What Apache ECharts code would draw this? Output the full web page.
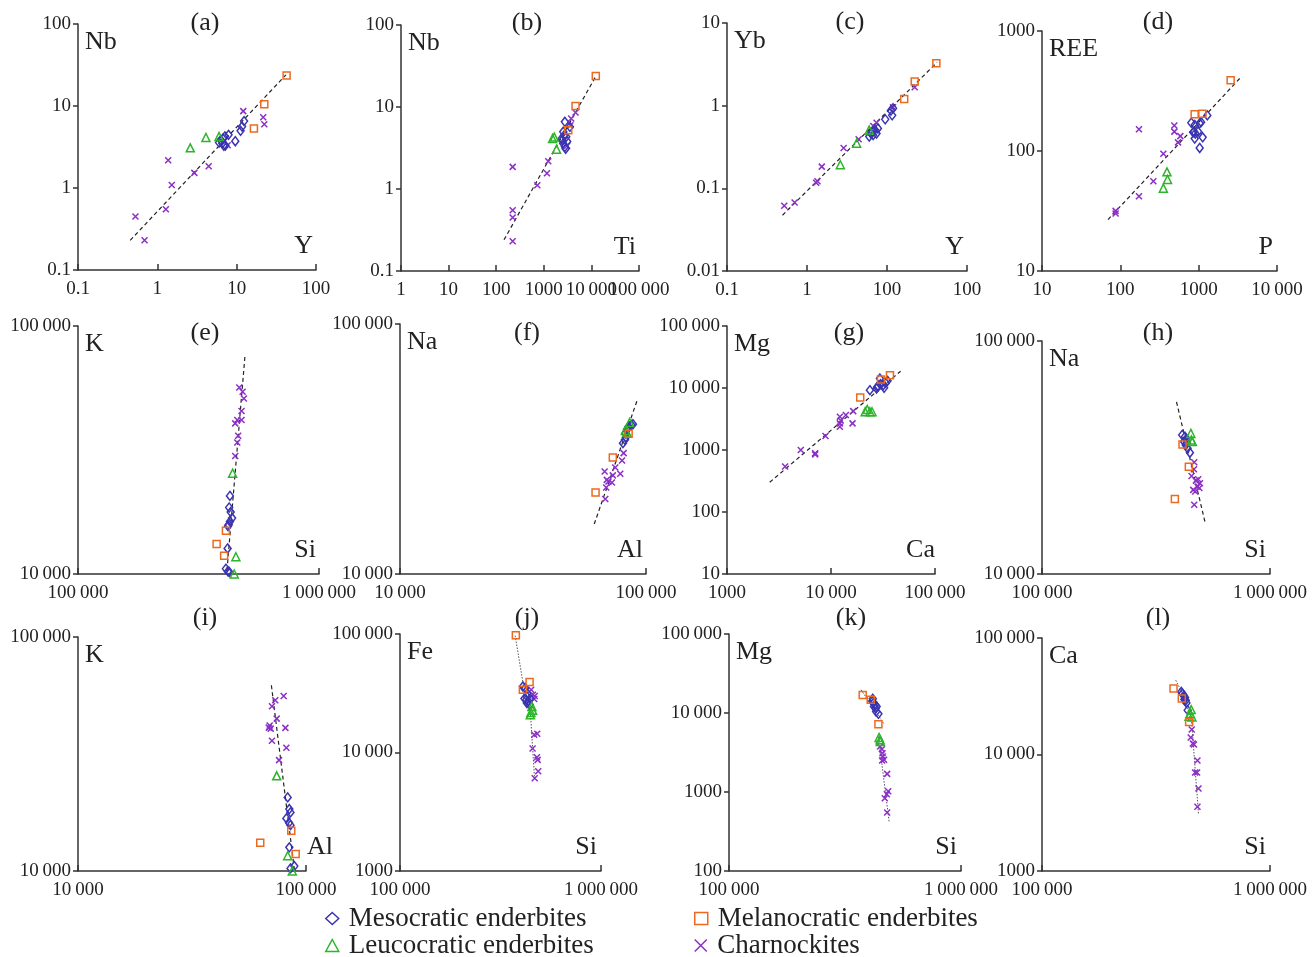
<!DOCTYPE html>
<html>
<head>
<meta charset="utf-8">
<script src="https://cdn.jsdelivr.net/npm/echarts@6/dist/echarts.min.js"></script>
<style>
  html, body { margin: 0; padding: 0; background: #fff; }
  #chart { width: 1315px; height: 957px; }
</style>
</head>
<body>
<div id="chart"></div>
<script>
// ---------- series names ----------
const seriesNames = ['Mesocratic enderbites', 'Leucocratic enderbites', 'Melanocratic enderbites', 'Charnockites'];

// ---------- (a) Nb vs Y ----------
const a_meso = [[6.0,3.59],[6.3,3.85],[6.6,3.5],[6.9,3.27],[7.1,4.25],[7.9,4.45],[9.6,3.72],[11.2,4.98],[11.7,5.62],[12.4,6.54],[7.2,3.3],[6.7,4.0]];
const a_leuco = [[2.6,3.09],[4.1,4.13],[6.0,4.25]];
const a_mela = [[42.6,23.6],[22.3,10.5],[16.5,5.32]];
const a_charn = [[0.53,0.45],[0.69,0.23],[1.28,0.55],[1.37,2.18],[1.52,1.09],[2.93,1.53],[4.44,1.84],[7.7,3.33],[12.1,8.66],[21.6,7.3],[22.3,6.0]];
const a_trend = [[0.455,0.23],[41.8,24.0]];

// ---------- (b) Nb vs Ti ----------
const b_meso = [[2770,6.6],[2560,4.98],[2440,3.94],[2560,3.59],[2770,3.27],[2960,4.33],[3100,3.8],[3530,5.73],[2660,4.5],[2880,3.1],[2360,4.1]];
const b_leuco = [[1530,4.13],[1660,4.3],[1850,3.06]];
const b_mela = [[12370,23.8],[4640,10.3],[3260,5.22]];
const b_charn = [[222,1.86],[222,0.55],[222,0.45],[222,0.23],[730,1.11],[1164,1.56],[1241,2.18],[3100,3.36],[3760,7.25],[4640,8.58],[3630,6.0]];
const b_trend = [[146,0.24],[12770,24.5]];

// ---------- (c) Yb vs Y ----------
const c_meso = [[6.0,0.423],[6.3,0.46],[6.6,0.48],[7.06,0.51],[7.7,0.53],[7.4,0.46],[9.5,0.685],[11.6,0.766],[11.2,0.873],[11.9,0.93],[6.7,0.44]];
const c_leuco = [[2.61,0.193],[4.17,0.351],[6.0,0.508]];
const c_mela = [[41.4,3.27],[22.2,1.96],[16.4,1.2]];
const c_charn = [[0.52,0.0615],[0.70,0.0675],[1.30,0.117],[1.35,0.122],[1.53,0.183],[2.87,0.308],[4.42,0.392],[6.73,0.569],[7.4,0.623],[11.9,0.957],[22.2,1.67]];
const c_trend = [[0.494,0.0473],[42.2,3.34]];

// ---------- (d) REE vs P ----------
const d_meso = [[806,172],[890,165],[872,145],[905,140],[985,145],[1030,170],[1075,174],[890,127],[1125,130],[1030,106],[1290,198],[850,143]];
const d_leuco = [[394,67],[400,58],[354,49]];
const d_mela = [[2560,388],[889,202],[1114,204]];
const d_charn = [[173,152],[87,31.7],[87,30.1],[173,42],[264,56],[354,95],[489,163],[489,145],[545,118],[583,133]];
const d_trend = [[69.6,26.8],[3506,416]];

// ---------- (e) K vs Si ----------
const e_meso = [[427000,20650],[424000,18540],[430000,17770],[436000,16800],[427000,16290],[422000,15790],[419000,15600],[417700,12680],[411000,10500],[419000,10250],[424000,10190]];
const e_leuco = [[438000,25500],[452000,11740],[445000,10000]];
const e_mela = [[411000,14940],[376000,13200],[404000,11850]];
const e_charn = [[467000,56500],[482000,54300],[488000,51000],[477000,45400],[477000,41800],[458000,41800],[449000,40500],[462000,36100],[458000,33900],[449000,29900]];
const e_trend = [[492500,75000],[414000,10000]];

// ---------- (f) Na vs Al ----------
const f_meso = [[80600,33370],[82100,34400],[82800,35260],[83700,37740],[85000,38900],[87100,39500],[88500,39730],[82500,36560],[84200,38200]];
const f_leuco = [[85800,40360],[82400,37500],[83700,36800]];
const f_mela = [[62360,21200],[73300,29250],[85000,36360]];
const f_charn = [[67900,25700],[69300,23800],[70400,23450],[72700,23230],[68900,22200],[73300,24800],[75000,26670],[78600,25170],[79900,28450],[81100,30440],[68300,19940]];
const f_trend = [[61600,15840],[91900,49260]];

// ---------- (g) Mg vs Ca ----------
const g_meso = [[23660,9230],[27400,9820],[28400,10700],[29530,14200],[29900,11530],[31800,11110],[33500,12110],[35000,13040],[27800,10400],[32400,10100]];
const g_leuco = [[22300,4510],[23660,4140],[24800,4140],[21300,4140]];
const g_mela = [[19100,7030],[36900,16070],[30200,13700]];
const g_charn = [[3620,540],[5120,1000],[7040,884],[7040,850],[8850,1680],[12160,3440],[12160,2690],[12160,2370],[13900,3660],[16350,4240],[16100,2690],[12400,3000]];
const g_trend = [[2575,302],[46700,18660]];

// ---------- (h) Na vs Si ----------
const h_meso = [[412000,39500],[423500,38840],[430500,37580],[420000,36980],[427000,35750],[434800,34620],[445400,33160],[432000,36500]];
const h_leuco = [[449800,40120],[452000,37580],[456400,37000]];
const h_mela = [[413300,35990],[440600,28890],[382600,21000]];
const h_charn = [[465300,30150],[464000,28140],[452800,26350],[473000,25160],[484300,25500],[492800,24500],[481000,23720],[460500,22960],[470000,22600],[465300,19810],[490000,23400]];
const h_trend = [[389000,54800],[518000,16800]];

// ---------- (i) K vs Al ----------
const i_meso = [[83100,20630],[84500,18400],[85500,17800],[82000,16780],[84200,16080],[85500,15700],[84500,12620],[85500,10260],[88900,10500]];
const i_leuco = [[74400,25520],[83100,11620],[87100,10000]];
const i_mela = [[86200,14860],[63000,13210],[90100,11820]];
const i_charn = [[79800,56000],[73300,53700],[70900,50600],[74400,44800],[69300,41830],[70000,40600],[81200,40900],[70900,36000],[82000,33600],[76200,29770],[68700,41000]];
const i_trend = [[70500,62200],[88900,10160]];

// ---------- (j) Fe vs Si ----------
const j_meso = [[408600,36100],[419700,34980],[427700,29720],[425000,27860],[436300,26980],[441300,25290],[430000,31500],[416000,28500],[445000,28500],[427700,26200]];
const j_leuco = [[453000,24470],[448000,21780],[456600,22700],[445000,20800]];
const j_mela = [[377000,97500],[441300,39300],[408600,33860]];
const j_charn = [[449600,33860],[458600,30700],[465400,28240],[468000,30000],[465400,14100],[481600,14370],[456600,10810],[480000,9130],[484000,8670],[487100,6950],[468000,6070]];
const j_trend = [[374000,96800],[412000,36100],[444600,22950],[467000,6070]];

// ---------- (k) Mg vs Si ----------
const k_meso = [[416600,15140],[419000,13340],[421500,12100],[428000,11520],[430600,10450],[440600,9770],[426000,12700],[415000,14000],[433000,12100]];
const k_leuco = [[443600,4900],[448000,4570],[449000,4360]];
const k_mela = [[377000,16840],[408200,14700],[440600,7230]];
const k_charn = [[448000,3767],[455800,3480],[458700,3100],[460000,2813],[457000,2502],[466000,2560],[480400,1696],[485500,1023],[479000,937],[469300,834],[480400,549]];
const k_trend1 = [[370900,19680],[466600,7230]];
const k_trend2 = [[440600,5040],[490000,422]];

// ---------- (l) Ca vs Si ----------
const l_meso = [[408000,34440],[413000,33340],[418700,32040],[424000,30800],[427000,29220],[430000,27720],[435600,23990],[421000,29600]];
const l_leuco = [[451000,24300],[446000,22470],[454500,21030],[441800,21300]];
const l_mela = [[377400,36800],[410400,30200],[441800,19050]];
const l_charn = [[453700,16370],[449000,13990],[458700,12430],[464000,12180],[480600,8880],[469400,7010],[478800,7010],[485700,5110],[480600,3560]];
const l_trend = [[386000,43400],[424000,30400],[453700,18440],[485700,3080]];

// ---------- tick labels (thin space groups thousands) ----------
const S = '\u2009';
const ticks_01_100 = ['0.1', '1', '10', '100'];
const ticks_1_1e5 = ['1', '10', '100', '1000', '10' + S + '000', '100' + S + '000'];
const ticks_c_x = ['0.1', '1', '100', '100'];
const ticks_001_10 = ['0.01', '0.1', '1', '10'];
const ticks_10_1e4 = ['10', '100', '1000', '10' + S + '000'];
const ticks_10_1e3 = ['10', '100', '1000'];
const ticks_1e5_1e6 = ['100' + S + '000', '1' + S + '000' + S + '000'];
const ticks_1e4_1e5 = ['10' + S + '000', '100' + S + '000'];
const ticks_1e3_1e5 = ['1000', '10' + S + '000', '100' + S + '000'];
const ticks_10_1e5 = ['10', '100', '1000', '10' + S + '000', '100' + S + '000'];
const ticks_100_1e5 = ['100', '1000', '10' + S + '000', '100' + S + '000'];

// ---------- panel definitions ----------
// splitMax: the last x label sits on its own axis so the crowded labels all stay visible
const panels = [
  { letter: '(a)', xName: 'Y',  yName: 'Nb',  x: [0.1, 100],  y: [0.1, 100],  xt: ticks_01_100,  yt: ticks_01_100,  d: [a_meso, a_leuco, a_mela, a_charn], trends: [a_trend] },
  { letter: '(b)', xName: 'Ti', yName: 'Nb',  x: [1, 1e5],    y: [0.1, 100],  xt: ticks_1_1e5,   yt: ticks_01_100,  d: [b_meso, b_leuco, b_mela, b_charn], trends: [b_trend], splitMax: true },
  { letter: '(c)', xName: 'Y',  yName: 'Yb',  x: [0.1, 100],  y: [0.01, 10],  xt: ticks_c_x,     yt: ticks_001_10,  d: [c_meso, c_leuco, c_mela, c_charn], trends: [c_trend] },
  { letter: '(d)', xName: 'P',  yName: 'REE', x: [10, 1e4],   y: [10, 1000],  xt: ticks_10_1e4,  yt: ticks_10_1e3,  d: [d_meso, d_leuco, d_mela, d_charn], trends: [d_trend] },
  { letter: '(e)', xName: 'Si', yName: 'K',   x: [1e5, 1e6],  y: [1e4, 1e5],  xt: ticks_1e5_1e6, yt: ticks_1e4_1e5, d: [e_meso, e_leuco, e_mela, e_charn], trends: [e_trend] },
  { letter: '(f)', xName: 'Al', yName: 'Na',  x: [1e4, 1e5],  y: [1e4, 1e5],  xt: ticks_1e4_1e5, yt: ticks_1e4_1e5, d: [f_meso, f_leuco, f_mela, f_charn], trends: [f_trend] },
  { letter: '(g)', xName: 'Ca', yName: 'Mg',  x: [1e3, 1e5],  y: [10, 1e5],   xt: ticks_1e3_1e5, yt: ticks_10_1e5,  d: [g_meso, g_leuco, g_mela, g_charn], trends: [g_trend] },
  { letter: '(h)', xName: 'Si', yName: 'Na',  x: [1e5, 1e6],  y: [1e4, 1e5],  xt: ticks_1e5_1e6, yt: ticks_1e4_1e5, d: [h_meso, h_leuco, h_mela, h_charn], trends: [h_trend] },
  { letter: '(i)', xName: 'Al', yName: 'K',   x: [1e4, 1e5],  y: [1e4, 1e5],  xt: ticks_1e4_1e5, yt: ticks_1e4_1e5, d: [i_meso, i_leuco, i_mela, i_charn], trends: [i_trend] },
  { letter: '(j)', xName: 'Si', yName: 'Fe',  x: [1e5, 1e6],  y: [1e3, 1e5],  xt: ticks_1e5_1e6, yt: ticks_1e3_1e5, d: [j_meso, j_leuco, j_mela, j_charn], trends: [j_trend], dotted: true },
  { letter: '(k)', xName: 'Si', yName: 'Mg',  x: [1e5, 1e6],  y: [100, 1e5],  xt: ticks_1e5_1e6, yt: ticks_100_1e5, d: [k_meso, k_leuco, k_mela, k_charn], trends: [k_trend1, k_trend2], dotted: true },
  { letter: '(l)', xName: 'Si', yName: 'Ca',  x: [1e5, 1e6],  y: [1e3, 1e5],  xt: ticks_1e5_1e6, yt: ticks_1e3_1e5, d: [l_meso, l_leuco, l_mela, l_charn], trends: [l_trend], dotted: true }
];

// ---------- layout (pixel boxes of each plot area, label anchors) ----------
const layout = [
  { l: 78,   t: 24,  r: 316,  b: 270, lx: 205,  ly: 23,  xnr: 313 },
  { l: 401,  t: 25,  r: 639,  b: 271, lx: 527,  ly: 23,  xnr: 636 },
  { l: 727,  t: 23,  r: 967,  b: 271, lx: 850,  ly: 22,  xnr: 964 },
  { l: 1042, t: 31,  r: 1277, b: 271, lx: 1158, ly: 22,  xnr: 1273 },
  { l: 78,   t: 326, r: 319,  b: 574, lx: 205,  ly: 333, xnr: 316 },
  { l: 400,  t: 324, r: 646,  b: 574, lx: 527,  ly: 333, xnr: 643 },
  { l: 727,  t: 326, r: 935,  b: 574, lx: 849,  ly: 333, xnr: 935 },
  { l: 1042, t: 341, r: 1270, b: 574, lx: 1158, ly: 333, xnr: 1266 },
  { l: 78,   t: 637, r: 306,  b: 871, lx: 205,  ly: 618, xnr: 333 },
  { l: 400,  t: 634, r: 601,  b: 871, lx: 527,  ly: 618, xnr: 597 },
  { l: 729,  t: 634, r: 961,  b: 871, lx: 851,  ly: 618, xnr: 957 },
  { l: 1042, t: 638, r: 1270, b: 871, lx: 1158, ly: 618, xnr: 1266 }
];

// ---------- marker styles ----------
const FONT = "'Liberation Serif', 'Times New Roman', serif";
const markers = [
  { symbol: 'diamond', size: [7, 9], color: '#3a34b0' },
  { symbol: 'triangle', size: 8, color: '#2cb52a' },
  { symbol: 'rect', size: 7, color: '#ec6a1f' },
  { symbol: 'path://M0,0L10,10M10,0L0,10', size: 6, color: '#8b2fc6' }
];

function labelFor(list, min, mode) {
  return function (v) {
    const idx = Math.round(Math.log10(v)) - Math.round(Math.log10(min));
    const last = list.length - 1;
    if (mode === 'noMax' && idx === last) return '';
    if (mode === 'onlyMax' && idx !== last) return '';
    return list[idx] !== undefined ? list[idx] : '';
  };
}

const axisLineStyle = { color: '#333', width: 1.5 };
const labelBase = { color: '#222', fontFamily: FONT, fontSize: 19, interval: 0, showMinLabel: true, showMaxLabel: true, hideOverlap: false };

const grids = [], xAxes = [], yAxes = [], series = [], graphics = [], extraX = [];

panels.forEach(function (p, k) {
  const L = layout[k];
  grids.push({ left: L.l, top: L.t, width: L.r - L.l, height: L.b - L.t, containLabel: false });
  xAxes.push({
    type: 'log', logBase: 10, gridIndex: k, min: p.x[0], max: p.x[1], position: 'bottom',
    axisLine: { show: true, onZero: false, lineStyle: axisLineStyle },
    axisTick: { show: true, inside: true, length: 6, lineStyle: axisLineStyle },
    splitLine: { show: false },
    minorTick: { show: false },
    axisLabel: Object.assign({ margin: 10, formatter: labelFor(p.xt, p.x[0], p.splitMax ? 'noMax' : null) }, labelBase)
  });
  if (p.splitMax) {
    extraX.push({
      type: 'log', logBase: 10, gridIndex: k, min: p.x[0], max: p.x[1], position: 'bottom',
      axisLine: { show: false }, axisTick: { show: false }, splitLine: { show: false },
      axisLabel: Object.assign({ margin: 10, formatter: labelFor(p.xt, p.x[0], 'onlyMax') }, labelBase)
    });
  }
  yAxes.push({
    type: 'log', logBase: 10, gridIndex: k, min: p.y[0], max: p.y[1],
    axisLine: { show: true, onZero: false, lineStyle: axisLineStyle },
    axisTick: { show: true, inside: false, length: 5, lineStyle: axisLineStyle },
    splitLine: { show: false },
    minorTick: { show: false },
    axisLabel: Object.assign({ margin: 7, formatter: labelFor(p.yt, p.y[0]) }, labelBase)
  });

  p.trends.forEach(function (tr) {
    series.push({
      type: 'line', xAxisIndex: k, yAxisIndex: k, data: tr, symbol: 'none', silent: true,
      z: 1,
      lineStyle: p.dotted
        ? { color: '#555', width: 1, type: [1.5, 1.5] }
        : { color: '#222', width: 1.2, type: [4, 3] }
    });
  });

  // Charnockites first, then the enderbite groups on top
  [3, 0, 1, 2].forEach(function (g) {
    const m = markers[g];
    series.push({
      name: seriesNames[g], type: 'scatter', xAxisIndex: k, yAxisIndex: k,
      data: p.d[g], symbol: m.symbol, symbolSize: m.size, z: 2,
      itemStyle: { color: 'rgba(0,0,0,0)', borderColor: m.color, borderWidth: 1.5, opacity: 1 }
    });
  });

  graphics.push({
    type: 'text', x: L.lx, y: L.ly, silent: true,
    style: { text: p.letter, font: '26px ' + FONT, fill: '#222', textAlign: 'center', textVerticalAlign: 'middle' }
  });
  graphics.push({
    type: 'text', x: L.l + 7, y: L.t + 18, silent: true,
    style: { text: p.yName, font: '26px ' + FONT, fill: '#222', textAlign: 'left', textVerticalAlign: 'middle' }
  });
  graphics.push({
    type: 'text', x: L.xnr, y: L.b - 24, silent: true,
    style: { text: p.xName, font: '26px ' + FONT, fill: '#222', textAlign: 'right', textVerticalAlign: 'middle' }
  });
});

// one legend block per entry: two columns of two rows
const legendSlots = [[325, 905], [325, 932], [694, 905], [694, 932]];
const legends = seriesNames.map(function (name, i) {
  return {
    data: [name], left: legendSlots[i][0], top: legendSlots[i][1], padding: 0,
    itemWidth: 13, itemHeight: 12, selectedMode: false,
    textStyle: { fontFamily: FONT, fontSize: 27, color: '#222', padding: [0, 0, 0, 5] },
    itemStyle: { borderWidth: 1.5 }
  };
});

const chart = echarts.init(document.getElementById('chart'), null, { renderer: 'canvas' });
chart.setOption({
  backgroundColor: '#fff',
  animation: false,
  grid: grids,
  xAxis: xAxes.concat(extraX),
  yAxis: yAxes,
  series: series,
  graphic: graphics,
  legend: legends
});
</script>
</body>
</html>
